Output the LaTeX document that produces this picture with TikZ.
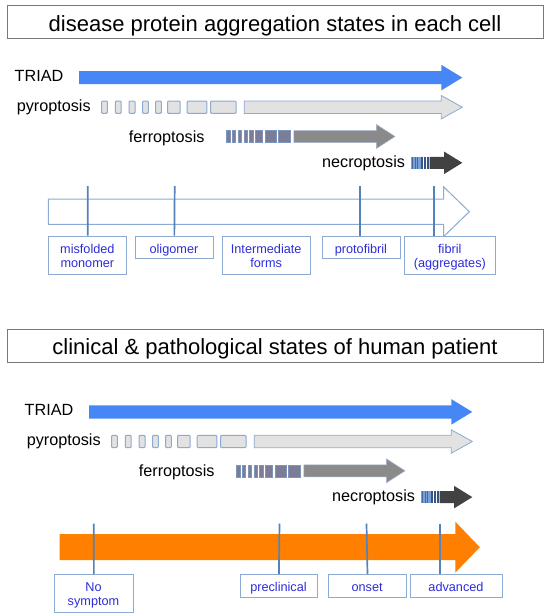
\documentclass[tikz,border=0pt]{standalone}
\usepackage{fontspec}
\setmainfont{Liberation Sans}
\definecolor{triadblue}{RGB}{70,135,245}
\definecolor{pyrofill}{RGB}{226,226,226}
\definecolor{edgeblue}{RGB}{140,170,210}
\definecolor{ferrofill}{RGB}{138,138,138}
\definecolor{ferroedge}{RGB}{125,150,190}
\definecolor{necrofill}{RGB}{66,66,66}
\definecolor{necrolight}{RGB}{120,160,215}
\definecolor{necromid}{RGB}{70,105,160}
\definecolor{tickblue}{RGB}{85,130,185}
\definecolor{labelblue}{RGB}{45,45,220}
\definecolor{orangebar}{RGB}{255,128,0}
\definecolor{titlegray}{RGB}{120,120,120}
\newcommand\blockarrow[7]{%
  \path[#1] (#2,{#5-#6}) -- (#3,{#5-#6}) -- (#3,{#5-#7}) -- (#4,#5)
    -- (#3,{#5+#7}) -- (#3,{#5+#6}) -- (#2,{#5+#6}) -- cycle;}
\newcommand\cellbar[5]{%
  \path[#1] (#2,{#4-#5}) rectangle (#3,{#4+#5});}
\newcommand\cellrows[1]{%
  \node[rowlabel] (triad#1) at (14.5,81.3) {TRIAD};
  \blockarrow{fill=triadblue}{79}{441.3}{462.3}{77.6}{6.6}{12.8}
  \node[rowlabel] (pyro#1) at (16.6,111.3) {pyroptosis};
  \foreach \a/\b in {101.5/107.3,115.3/121.2,129/135,142.5/148.3,155.6/161.3,167.5/180.2,187.2/206.9,210.6/236}
    {\cellbar{pyrobar}{\a}{\b}{107.2}{6.2}}
  \blockarrow{fill=pyrofill,draw=edgeblue,line width=0.8pt}{244.2}{441.3}{462.3}{107.2}{6.2}{11.7}
  \node[rowlabel] (ferro#1) at (128.7,142.5) {ferroptosis};
  \foreach \a/\b in {226.5/229.8,232.3/235.6,238.1/241.4,243.9/247.2,249.7/253,255.5/262.5,265.5/276.5,278.5/290}
    {\cellbar{ferrobar}{\a}{\b}{136.6}{6}}
  \blockarrow{fill=ferrofill,draw=ferroedge!70,line width=0.5pt}{293.8}{376.4}{395}{136.5}{6}{12}
  \node[rowlabel] (necro#1) at (322,167.5) {necroptosis};
  \cellbar{fill=necrolight}{410.5}{420.5}{162.8}{5.8}
  \foreach \a in {412.3,414.8,417.3}
    {\cellbar{fill=necromid}{\a}{\a+0.9}{162.8}{5.8}}
  \foreach \a/\b in {420.8/422.8,423.8/425.8,426.8/429.2}
    {\cellbar{fill=necromid!80!black}{\a}{\b}{162.8}{5.8}}
  \blockarrow{fill=necrofill}{429.5}{444}{462.3}{162.8}{6}{11.3}
}
\begin{document}
\begin{tikzpicture}[x=1pt,y=-1pt,
  rowlabel/.style={anchor=base west,inner sep=0pt,font=\fontsize{16.2}{18}\selectfont},
  titlebox/.style={draw=titlegray,line width=0.9pt,inner sep=0pt,minimum width=536pt,anchor=north west},
  titletext/.style={anchor=base,inner sep=0pt,font=\fontsize{22}{26}\selectfont},
  pyrobar/.style={fill=pyrofill,draw=edgeblue,line width=1pt,rounded corners=1pt},
  ferrobar/.style={fill=ferrofill!90!blue,draw=ferroedge,line width=0.6pt},
  statebox/.style={draw=edgeblue,fill=white,line width=0.8pt,inner sep=0pt,anchor=north west},
  statetext/.style={anchor=base,inner sep=0pt,text=labelblue,font=\fontsize{12.7}{14}\selectfont},
  tick/.style={draw=tickblue,line width=1.7pt}]
\useasboundingbox (0,0) rectangle (550,616);
\fill[white] (0,0) rectangle (550,616);
% ---------- section 1 ----------
\node[titlebox,minimum height=33pt] (title1) at (7,4.7) {};
\node[titletext] (title1t) at (275,31.7) {disease protein aggregation states in each cell};
\cellrows{a}
\blockarrow{fill=white,draw=edgeblue,line width=1pt}{48.4}{443.7}{469.3}{211.7}{12.7}{24.8}
\coordinate (ta1) at (87.7,186);
\coordinate (ta2) at (174.7,186);
\coordinate (ta4) at (360.2,186);
\coordinate (ta5) at (434.2,186);
\node[statebox,minimum width=77.9pt,minimum height=38.3pt] (sa1) at (48.4,235.7) {};
\node[statebox,minimum width=77.9pt,minimum height=22.6pt] (sa2) at (135,235.7) {};
\node[statebox,minimum width=88.4pt,minimum height=38.3pt] (sa3) at (222,235.7) {};
\node[statebox,minimum width=77.9pt,minimum height=22.6pt] (sa4) at (322,235.7) {};
\node[statebox,minimum width=90.9pt,minimum height=38.3pt] (sa5) at (404.4,235.7) {};
\draw[tick] (ta1) -- (sa1.north);
\draw[tick] (ta2) -- (sa2.north);
\draw[tick] (ta4) -- (ta4 |- sa4.north);
\draw[tick] (ta5) -- (ta5 |- sa5.north);
\node[statetext] (la1) at (87.35,253) {misfolded};
\node[statetext] (la1b) at (87.35,267.5) {monomer};
\node[statetext] (la2) at (173.95,253) {oligomer};
\node[statetext] (la3) at (266.2,253) {Intermediate};
\node[statetext] (la3b) at (266.2,267.5) {forms};
\node[statetext] (la4) at (360.95,253) {protofibril};
\node[statetext] (la5) at (449.85,253) {fibril};
\node[statetext] (la5b) at (449.85,267.5) {(aggregates)};
% ---------- section 2 ----------
\node[titlebox,minimum height=33.8pt] (title2) at (7,328.5) {};
\node[titletext] (title2t) at (275,354.7) {clinical \& pathological states of human patient};
\begin{scope}[shift={(10,334.3)}]
\cellrows{b}
\end{scope}
\blockarrow{fill=orangebar}{59.6}{455.3}{479.8}{547.2}{13}{25.5}
\coordinate (tb1) at (93.7,523.5);
\coordinate (tb2) at (279.5,523.5);
\coordinate (tb3) at (366.5,523.5);
\coordinate (tb4) at (440.2,523.5);
\node[statebox,minimum width=78.2pt,minimum height=38pt] (sb1) at (54.4,574) {};
\node[statebox,minimum width=77.8pt,minimum height=22.7pt] (sb2) at (239.6,574) {};
\node[statebox,minimum width=78.2pt,minimum height=22.7pt] (sb3) at (328,574) {};
\node[statebox,minimum width=91.2pt,minimum height=22.7pt] (sb4) at (410.4,574) {};
\draw[tick] (tb1) -- (sb1.north);
\draw[tick] (tb2) -- (sb2.north);
\draw[tick] (tb3) -- (sb3.north);
\draw[tick] (tb4) -- (tb4 |- sb4.north);
\node[statetext] (lb1) at (93.5,591.2) {No};
\node[statetext] (lb1b) at (93.5,605.6) {symptom};
\node[statetext] (lb2) at (278.5,591.2) {preclinical};
\node[statetext] (lb3) at (367.1,591.2) {onset};
\node[statetext] (lb4) at (456,591.2) {advanced};
\end{tikzpicture}
\end{document}
